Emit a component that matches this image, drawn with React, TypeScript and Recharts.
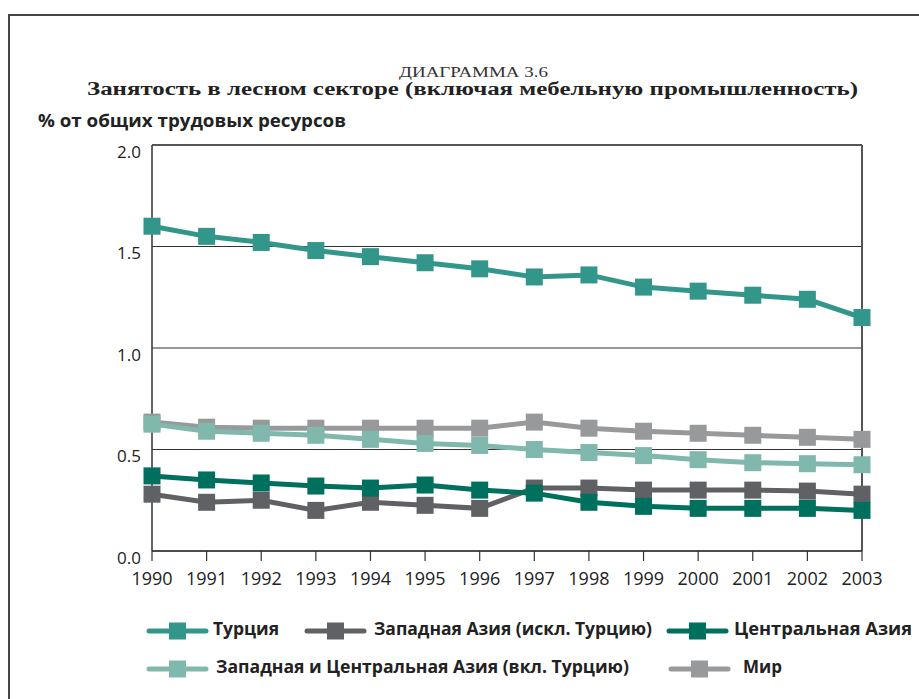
import React from 'react';
import { LineChart, Line, XAxis, YAxis, CartesianGrid, ReferenceLine } from 'recharts';

const years = ['1990', '1991', '1992', '1993', '1994', '1995', '1996', '1997', '1998', '1999', '2000', '2001', '2002', '2003'];
const turkey = [1.6, 1.55, 1.52, 1.48, 1.45, 1.42, 1.39, 1.35, 1.36, 1.3, 1.28, 1.26, 1.24, 1.15];
const westAsia = [0.28, 0.24, 0.25, 0.2, 0.24, 0.225, 0.21, 0.31, 0.31, 0.3, 0.3, 0.3, 0.295, 0.28];
const centralAsia = [0.37, 0.35, 0.335, 0.32, 0.31, 0.325, 0.3, 0.285, 0.24, 0.22, 0.21, 0.21, 0.21, 0.2];
const westCentral = [0.625, 0.59, 0.58, 0.57, 0.55, 0.53, 0.52, 0.5, 0.485, 0.47, 0.45, 0.435, 0.43, 0.425];
const world = [0.635, 0.61, 0.605, 0.605, 0.605, 0.605, 0.605, 0.635, 0.605, 0.59, 0.58, 0.57, 0.56, 0.55];
const yTicks = [0, 0.5, 1, 1.5, 2];

const seriesNames = {
  turkey: 'Турция',
  westAsia: 'Западная Азия (искл. Турцию)',
  centralAsia: 'Центральная Азия',
  westCentral: 'Западная и Центральная Азия (вкл. Турцию)',
  world: 'Мир',
};

const colors: Record<string, string> = {
  turkey: '#33968a',
  westAsia: '#606164',
  centralAsia: '#00705e',
  westCentral: '#80b8ae',
  world: '#98999b',
};

const data = years.map((year, i) => ({
  year,
  turkey: turkey[i],
  westAsia: westAsia[i],
  centralAsia: centralAsia[i],
  westCentral: westCentral[i],
  world: world[i],
}));

const squareDot = (color: string) => (props: any) => {
  const { cx, cy, index } = props;
  return <rect key={`d-${index}`} x={cx - 8.5} y={cy - 8.5} width={17} height={17} fill={color} />;
};

const XTick = (props: any) => {
  const { x, y, payload } = props;
  return (
    <text x={x} y={y + 22} textAnchor="middle" fontFamily="'Open Sans'" fontSize={18} fill="#222">
      {payload.value}
    </text>
  );
};

const YTick = (props: any) => {
  const { x, y, payload } = props;
  return (
    <text x={x} y={y + 12.5} textAnchor="end" fontFamily="'Open Sans'" fontSize={17} fill="#222">
      {Number(payload.value).toFixed(1)}
    </text>
  );
};

// legend layout: [key, lineStart, textStart, textWidth, rowY]
const legendItems: [keyof typeof seriesNames, number, number, number, number][] = [
  ['turkey', 149, 213, 66, 631],
  ['westAsia', 307, 374, 278, 631],
  ['centralAsia', 669, 734, 178, 631],
  ['westCentral', 149, 216, 413, 669],
  ['world', 671, 743, 39, 669],
];

const drawOrder: (keyof typeof seriesNames)[] = ['world', 'westAsia', 'westCentral', 'centralAsia', 'turkey'];

export default function App() {
  return (
    <div style={{ position: 'absolute', left: 0, top: 0, width: 919, height: 699, background: '#fff' }}>
      <LineChart
        width={919}
        height={699}
        data={data}
        margin={{ top: 145, right: 57, bottom: 108, left: 92 }}
        style={{ position: 'absolute', left: 0, top: 0 }}
      >
        <CartesianGrid vertical={false} stroke="#333" strokeWidth={1.2} />
        <XAxis
          dataKey="year"
          interval={0}
          height={40}
          tickSize={10}
          tickLine={{ stroke: '#333', strokeWidth: 1.2 }}
          axisLine={{ stroke: '#333', strokeWidth: 1.5 }}
          tick={<XTick />}
        />
        <YAxis
          domain={[0, 2]}
          ticks={yTicks}
          width={60}
          tickLine={false}
          tickSize={0}
          tickMargin={11}
          axisLine={{ stroke: '#333', strokeWidth: 1.5 }}
          tick={<YTick />}
        />
        <ReferenceLine x="2003" stroke="#555" strokeWidth={2} />
        <ReferenceLine y={2} stroke="#555" strokeWidth={2} />
        {drawOrder.map((k) => (
          <Line
            key={k}
            type="linear"
            dataKey={k}
            name={seriesNames[k]}
            stroke={colors[k]}
            strokeWidth={5}
            dot={squareDot(colors[k])}
            activeDot={false}
            isAnimationActive={false}
          />
        ))}
      </LineChart>
      <svg width={919} height={699} style={{ position: 'absolute', left: 0, top: 0, pointerEvents: 'none' }}>
        <line x1={9} y1={15} x2={919} y2={15} stroke="#444" strokeWidth={2} />
        <line x1={9} y1={14} x2={9} y2={699} stroke="#444" strokeWidth={2} />
        <text x={399} y={77} fontFamily="'Liberation Serif', serif" fontSize={14} fill="#333" textLength={149} lengthAdjust="spacingAndGlyphs">
          ДИАГРАММА 3.6
        </text>
        <text x={87} y={95} fontFamily="'Liberation Serif', serif" fontWeight={700} fontSize={18} fill="#222" textLength={771} lengthAdjust="spacingAndGlyphs">
          Занятость в лесном секторе (включая мебельную промышленность)
        </text>
        <text x={38} y={127} fontFamily="'Open Sans', sans-serif" fontWeight={700} fontSize={17} fill="#222" textLength={308} lengthAdjust="spacingAndGlyphs">
          % от общих трудовых ресурсов
        </text>
        {legendItems.map(([k, ls, ts, tw, y]) => (
          <g key={k}>
            <line x1={ls} y1={y} x2={ls + 57} y2={y} stroke={colors[k]} strokeWidth={5} strokeLinecap="round" />
            <rect x={ls + 20} y={y - 8.5} width={17} height={17} fill={colors[k]} />
            <text x={ts} y={y + 4} fontFamily="'Open Sans', sans-serif" fontWeight={700} fontSize={18} fill="#222" textLength={tw} lengthAdjust="spacingAndGlyphs">
              {seriesNames[k]}
            </text>
          </g>
        ))}
      </svg>
    </div>
  );
}
